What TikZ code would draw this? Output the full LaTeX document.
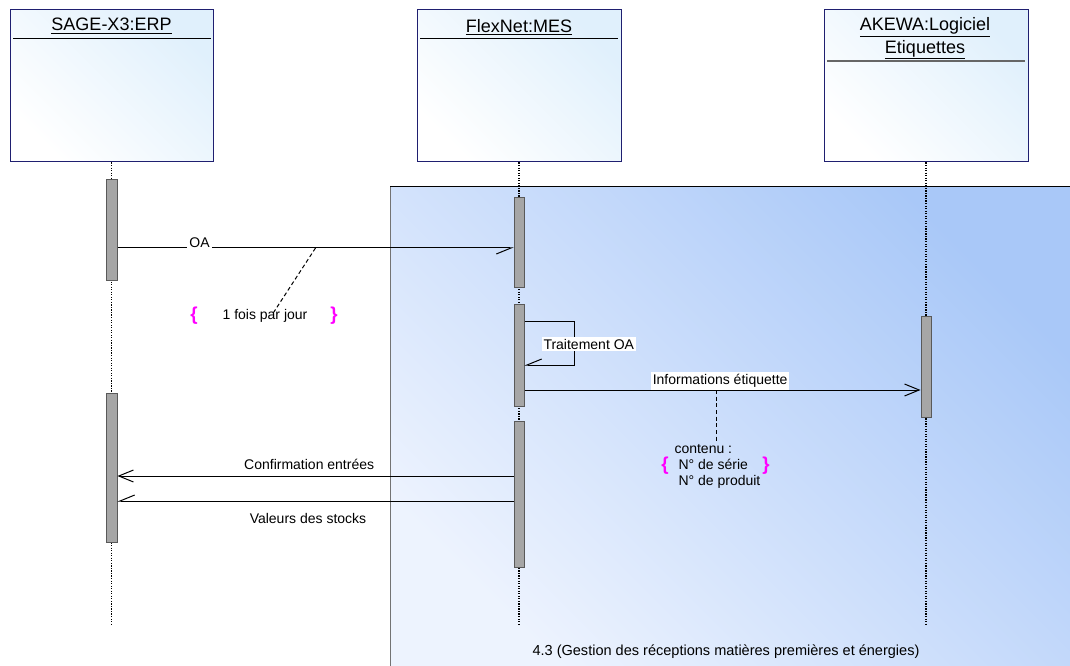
\documentclass[tikz,border=0pt]{standalone}
\usepackage{fontspec}
\setmainfont{Liberation Sans}
\usetikzlibrary{arrows.meta,fit}

\definecolor{framedark}{HTML}{A9C8F8}
\definecolor{framelight}{HTML}{EDF3FE}
\definecolor{boxblue}{HTML}{E0F0FC}
\definecolor{boxedge}{HTML}{1F1F70}
\definecolor{barfill}{HTML}{A6A6A6}
\definecolor{bracepink}{HTML}{FF00FF}

\tikzset{every picture/.style={line width=0.75pt},
  lifebox/.style={draw=boxedge, inner sep=0pt, top color=boxblue, bottom color=white, shading angle=-45},
  title/.style={font=\fontsize{13.5}{17}\selectfont, inner sep=0.75pt, align=center},
  small/.style={font=\fontsize{10.5}{12}\selectfont, inner sep=0.75pt},
  lifeline/.style={densely dotted, line width=0.9pt},
  actbar/.style={draw=black!65, fill=barfill, inner sep=0pt},
  msg/.style={-{Straight Barb[length=11pt,width=9pt]}},
  asyncmsg/.style={-{Straight Barb[harpoon,swap,length=11pt,width=9pt]}},
  notelink/.style={densely dashed},
  brace/.style={font=\fontsize{14}{15}\selectfont\bfseries, text=bracepink, inner sep=0pt}}

\begin{document}
\begin{tikzpicture}[x=0.75pt,y=0.75pt,yscale=-1,xscale=1]
        \useasboundingbox (0,0) rectangle (1070,666);
        % fragment 4.3
        \path [top color=framedark, bottom color=framelight, shading angle=-45] (390,187) rectangle (1076,672);
        \draw [black!55] (390,672) -- (390,187);
        \draw (390,187) -- (1076,187);
        \node [small, font=\fontsize{10.9}{12}\selectfont] (framelbl) at (726,652) {4.3 (Gestion des réceptions matières premières et énergies)};

        % lifelines
        \node [lifebox, fit={(10,10)(213,162)}] (sagebox) {};
        \node [lifebox, fit={(417,10)(621,162)}] (mesbox) {};
        \node [lifebox, fit={(824,10)(1028,162)}] (akebox) {};
        \draw (13,39) -- (211,39);
        \draw (420,39) -- (618,39);
        \draw [black!60, line width=1.1pt] (827,61) -- (1025,61);
        \node [title] (sage) at (111.5,26) {\underline{SAGE-X3:ERP}};
        \node [title] (mes) at (519,27) {\underline{FlexNet:MES}};
        \node [title] (ake) at (925,38.5) {\underline{AKEWA:Logiciel}\\\underline{Etiquettes}};

        \coordinate (sageend) at (111.5,625);
        \coordinate (mesend) at (519,625);
        \coordinate (akeend) at (926,625);
        \draw [lifeline] (sagebox.south) -- (sageend);
        \draw [lifeline] (mesbox.south) -- (mesend);
        \draw [lifeline] (akebox.south -| akeend) -- (akeend);

        % activations
        \node [actbar, fit={(106,180)(117,281)}] (sageA) {};
        \node [actbar, fit={(106,393)(117,542)}] (sageB) {};
        \node [actbar, fit={(514,198)(524,288)}] (mesA) {};
        \node [actbar, fit={(514,305)(524,406)}] (mesB) {};
        \node [actbar, fit={(514,421)(524,567)}] (mesC) {};
        \node [actbar, fit={(921,317)(931,417)}] (akeA) {};

        % messages
        \draw [asyncmsg] (sageA.east |- 0,248) -- coordinate [pos=0.5] (oamid) node [small, fill=white, pos=0.207, anchor=south, yshift=-2pt, inner sep=2pt] (oalbl) {OA} (mesA.west |- 0,248);
        \draw [asyncmsg] (mesB.east |- 0,322) -- (574,322) -- (574,365) -- (mesB.east |- 0,365);
        \node [small, fill=white, anchor=west, inner sep=1.5pt] (traitlbl) at (541,344) {Traitement OA};
        \draw [msg] (mesB.east |- 0,390) -- coordinate [pos=0.484] (infomid) node [small, fill=white, pos=0.494, anchor=south, inner sep=1.5pt] (infolbl) {Informations étiquette} (akeA.west |- 0,390);
        \draw [msg] (mesC.west |- 0,476) -- node [small, pos=0.516, above=4pt] (conflbl) {Confirmation entrées} (sageB.east |- 0,476);
        \draw [asyncmsg] (mesC.west |- 0,501) -- node [small, pos=0.519, below=8pt] (stocklbl) {Valeurs des stocks} (sageB.east |- 0,501);

        % notes
        \node [small] (oanote) at (265,316) {1 fois par jour};
        \node [brace] (oabl) at (194,316) {\{};
        \node [brace] (oabr) at (334,316) {\}};
        \draw [notelink] (oamid) -- ([xshift=6pt,yshift=4pt]oanote.north);
        \node [small, align=left, anchor=west] (infonote) at (673,466) {contenu :\\\hspace*{3pt}N° de série\\\hspace*{3pt}N° de produit};
        \node [brace] (infobl) at (665,466) {\{};
        \node [brace] (infobr) at (766,466) {\}};
        \draw [notelink] (infomid) -- (infomid |- infonote.north);
\end{tikzpicture}
\end{document}
